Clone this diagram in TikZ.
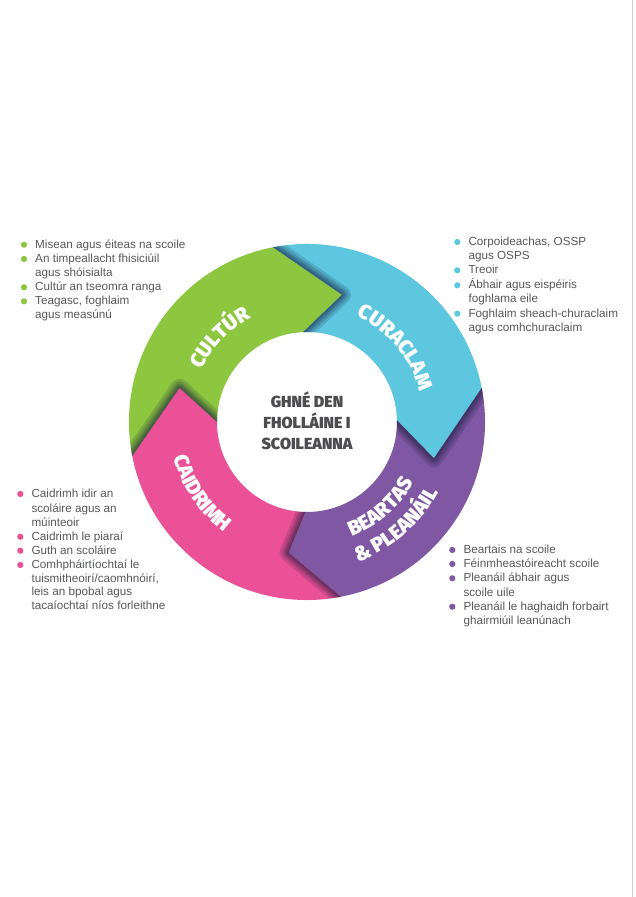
\documentclass[tikz,border=0pt]{standalone}
\usepackage{fontspec}
\setmainfont{Liberation Sans}
\newfontfamily\dispfont{Fira Sans}[UprightFont={* Black}, BoldFont={* Black}]
\usetikzlibrary{decorations.text}
\definecolor{cgreen}{RGB}{141,198,63}
\definecolor{ccyan}{RGB}{93,199,224}
\definecolor{cpurple}{RGB}{127,87,163}
\definecolor{cpink}{RGB}{234,81,151}
\definecolor{ctext}{RGB}{88,89,91}
\definecolor{ctitle}{RGB}{77,77,79}
\definecolor{cshadow}{RGB}{20,25,60}
\definecolor{cedge}{RGB}{205,205,205}
\def\Ro{178}\def\Ri{90}\def\Rm{132}
% #1 outA #2 tipA #3 inA #4 outB #5 tipB #6 inB
\newcommand\segpath[6]{(#1:\Ro) arc[start angle=#1, end angle=#4, radius=\Ro] -- (#5:\Rm) -- (#6:\Ri) arc[start angle=#6, end angle=#3, radius=\Ri] -- (#2:\Rm) -- cycle}
\newcommand\chevshadow[9]{% #1-#6 segment params, #7 out #8 tip #9 in
  \begin{scope}
    \clip \segpath{#1}{#2}{#3}{#4}{#5}{#6};
    \foreach \w in {18,13,9,6,3}{
      \draw[cshadow, opacity=0.16, line width=\w pt, line join=round] (#7:\Ro) -- (#8:\Rm) -- (#9:\Ri);
    }
  \end{scope}}
\newcommand\lblfont{\dispfont\fontsize{20.5}{20.5}\selectfont}
\newcommand\blist[6]{% #1 name, #2 bullet x, #3 bullet y (px from top), #4 colour, #5 pitch, #6 lines
  \fill[#4] (#2,897-#3) circle (3.1);
  \node[itemtext, anchor=base west] (#1) at (#2+11,893.5-#3)
    {\fontsize{11.7}{#5}\selectfont\begin{tabular}[t]{@{}l@{}}#6\end{tabular}};}
\tikzset{itemtext/.style={inner sep=0pt, text=ctext}}
\begin{document}
\begin{tikzpicture}[x=1pt,y=1pt]
\fill[white] (0,0) rectangle (635,897);
\useasboundingbox (0,0) rectangle (635,897);
\draw[cedge, line width=1.2pt] (632.5,0) -- (632.5,897);
\begin{scope}[shift={(307,475)}]
  % segments
  \fill[cgreen]  \segpath{191}{165}{180}{101}{74.6}{92.5};
  \fill[ccyan]   \segpath{101}{74.6}{92.5}{11}{-16}{1};
  \fill[cpurple] \segpath{11}{-16}{1}{-79}{-98}{-91};
  \fill[cpink]   \segpath{-79}{-98}{-91}{-169}{-195}{-180};
  % shadows cast by each head onto the next tail
  \chevshadow{101}{74.6}{92.5}{11}{-16}{1}{101}{74.6}{92.5}
  \chevshadow{11}{-16}{1}{-79}{-98}{-91}{11}{-16}{1}
  \chevshadow{-79}{-98}{-91}{-169}{-195}{-180}{-79}{-98}{-91}
  \chevshadow{191}{165}{180}{101}{74.6}{92.5}{191}{165}{180}
  % labels
  \path[decorate, decoration={text along path, text align=center, text color=white, text={|\lblfont|CULTÚR}}]
    (176:118) arc[start angle=176, end angle=96, radius=118];
  \path[decorate, decoration={text along path, text align=center, text color=white, text={|\lblfont|CURACLAM}}]
    (80:117) arc[start angle=80, end angle=0, radius=117];
  \path[decorate, decoration={text along path, text align=center, text color=white, text={|\lblfont|CAIDRIMH}}]
    (174:138) arc[start angle=174, end angle=254, radius=138];
  \path[decorate, decoration={text along path, text align=center, text color=white, text={|\lblfont|BEARTAS}}]
    (271:123) arc[start angle=271, end angle=351, radius=123];
  \path[decorate, decoration={text along path, text align=center, text color=white, text={|\lblfont|{\&} PLEANÁIL}}]
    (271:149) arc[start angle=271, end angle=351, radius=149];
  \node[font=\dispfont\fontsize{16}{21}\selectfont, text=ctitle, align=center] (title) at (0,1)
    {GHNÉ DEN\\FHOLLÁINE I\\SCOILEANNA};
\end{scope}
% bullet lists
\blist{g1}{24}{244.7}{cgreen}{14.2}{Misean agus éiteas na scoile}
\blist{g2}{24}{259}{cgreen}{14.2}{An timpeallacht fhisiciúil\\agus shóisialta}
\blist{g3}{24}{287.3}{cgreen}{14.2}{Cultúr an tseomra ranga}
\blist{g4}{24}{301.3}{cgreen}{14.2}{Teagasc, foghlaim\\agus measúnú}
\blist{c1}{457.3}{242}{ccyan}{14.2}{Corpoideachas, OSSP\\agus OSPS}
\blist{c2}{457.3}{270.3}{ccyan}{14.2}{Treoir}
\blist{c3}{457.3}{285.3}{ccyan}{14.2}{Ábhair agus eispéiris\\foghlama eile}
\blist{c4}{457.3}{313.7}{ccyan}{14.6}{Foghlaim sheach-churaclaim\\agus comhchuraclaim}
\blist{p1}{20.3}{494}{cpink}{14.6}{Caidrimh idir an\\scoláire agus an\\múinteoir}
\blist{p2}{20.3}{536.7}{cpink}{14.2}{Caidrimh le piaraí}
\blist{p3}{20.3}{550.7}{cpink}{14.2}{Guth an scoláire}
\blist{p4}{20.3}{565}{cpink}{13.6}{Comhpháirtíochtaí le\\tuismitheoirí/caomhnóirí,\\leis an bpobal agus\\tacaíochtaí níos forleithne}
\blist{u1}{452.3}{550}{cpurple}{14.2}{Beartais na scoile}
\blist{u2}{452.3}{564}{cpurple}{14.2}{Féinmheastóireacht scoile}
\blist{u3}{452.3}{578.3}{cpurple}{14.4}{Pleanáil ábhair agus\\scoile uile}
\blist{u4}{452.3}{606.7}{cpurple}{14.3}{Pleanáil le haghaidh forbairt\\ghairmiúil leanúnach}
\end{tikzpicture}
\end{document}
